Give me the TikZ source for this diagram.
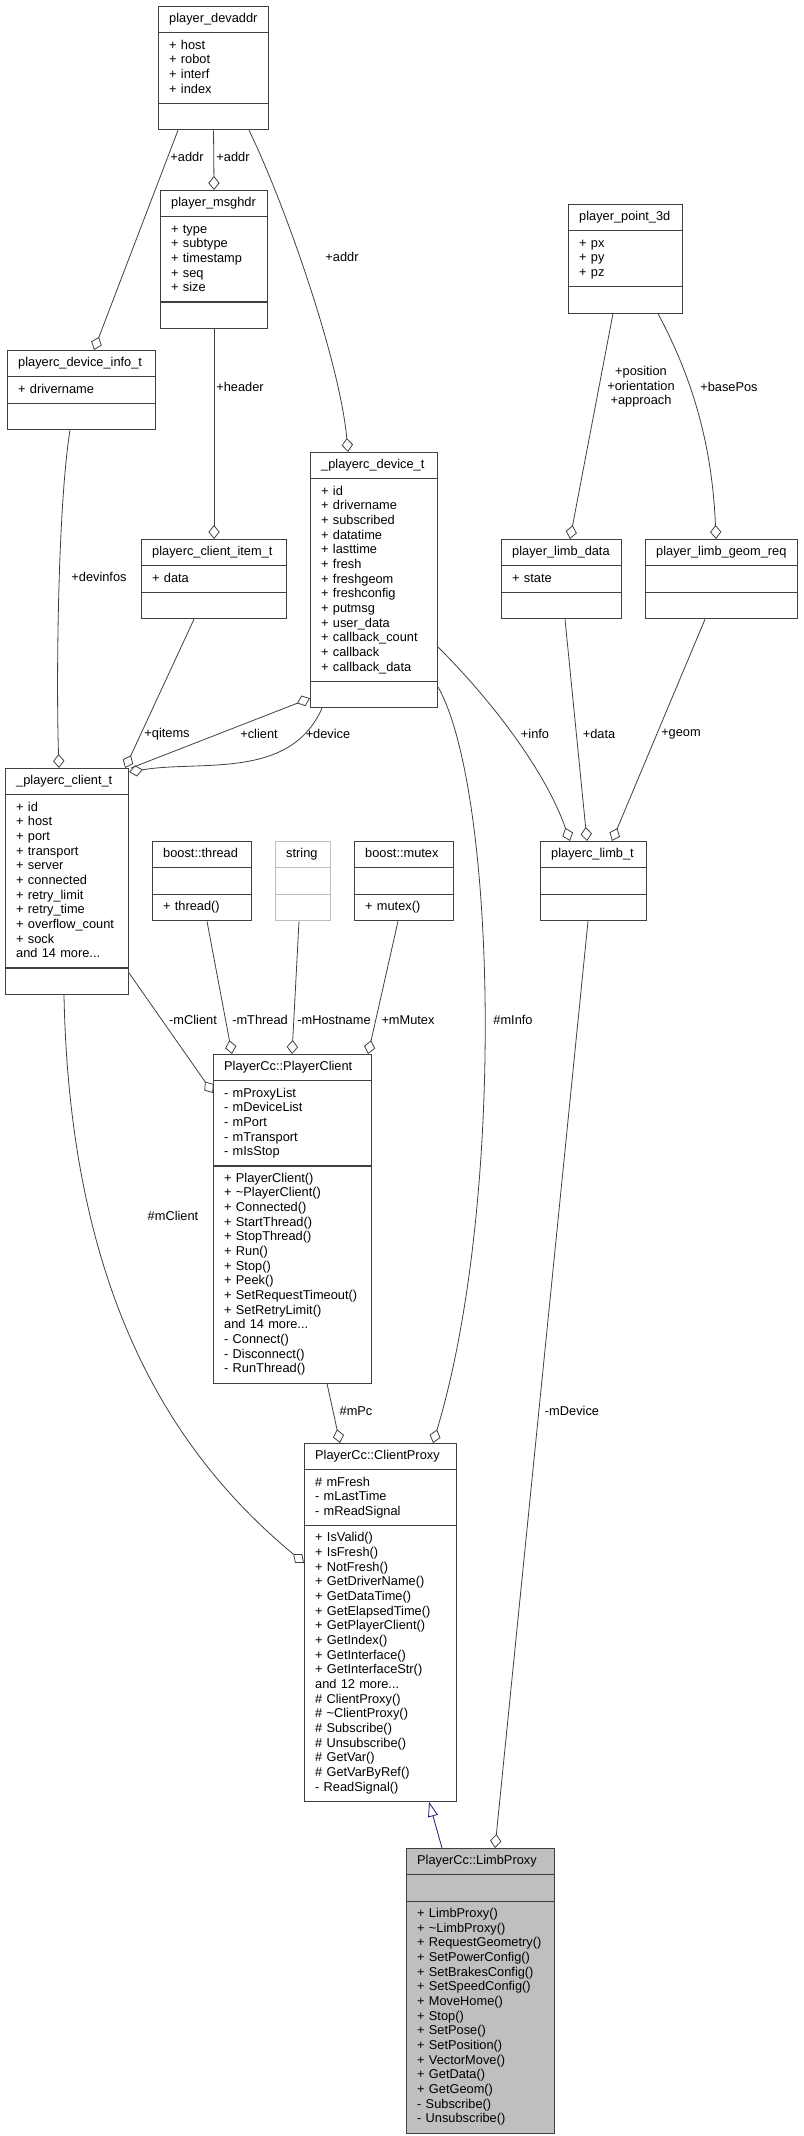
\documentclass[tikz,border=0pt]{standalone}
\usepackage{fontspec}
\setmainfont{Liberation Sans}
\usetikzlibrary{shapes.multipart,arrows.meta}

\definecolor{boxgray}{HTML}{404040}
\definecolor{stubgray}{HTML}{BFBFBF}
\definecolor{fillgray}{HTML}{BFBFBF}
\definecolor{inhblue}{HTML}{191970}

\tikzset{
  cls/.style={rectangle split, rectangle split parts=3, draw=boxgray, line width=0.8pt,
    inner xsep=8pt, inner ysep=4pt, align=left, anchor=north west,
    font=\fontsize{9.6pt}{11pt}\selectfont},
  boxw/.style={text width=#1*0.75pt-16pt},
  agg/.style={draw=boxgray, line width=0.6pt, -{Diamond[open, length=10.5pt, width=8.5pt]}},
  inh/.style={draw=inhblue, line width=0.6pt, -{Triangle[open, length=11pt, width=7.5pt]}},
  lbl/.style={font=\fontsize{9.6pt}{11pt}\selectfont, inner sep=0pt, align=center},
}

\begin{document}
\begin{tikzpicture}[x=0.75pt, y=-0.75pt]
  \useasboundingbox (0,0) rectangle (803,2136);

  % classes
  \node[cls, boxw=110] (devaddr) at (158,6) {\centering\strut player\_devaddr\strut
    \nodepart{two}\strut + host\\+ robot\\+ interf\\+ index\strut
    \nodepart{three}\strut};
  \node[cls, boxw=107] (msghdr) at (160,190) {\centering\strut player\_msghdr\strut
    \nodepart{two}\strut + type\\+ subtype\\+ timestamp\\+ seq\\+ size\strut
    \nodepart{three}\strut};
  \node[cls, boxw=148] (info) at (7,350) {\centering\strut playerc\_device\_info\_t\strut
    \nodepart{two}\strut + drivername\strut
    \nodepart{three}\strut};
  \node[cls, boxw=114] (point) at (568,204) {\centering\strut player\_point\_3d\strut
    \nodepart{two}\strut + px\\+ py\\+ pz\strut
    \nodepart{three}\strut};
  \node[cls, boxw=145] (item) at (141,539) {\centering\strut playerc\_client\_item\_t\strut
    \nodepart{two}\strut + data\strut
    \nodepart{three}\strut};
  \node[cls, boxw=127] (devt) at (310,452) {\centering\strut \_playerc\_device\_t\strut
    \nodepart{two}\strut + id\\+ drivername\\+ subscribed\\+ datatime\\+ lasttime\\+ fresh\\+ freshgeom\\+ freshconfig\\+ putmsg\\+ user\_data\\+ callback\_count\\+ callback\\+ callback\_data\strut
    \nodepart{three}\strut};
  \node[cls, boxw=120] (limbdata) at (501,539) {\centering\strut player\_limb\_data\strut
    \nodepart{two}\strut + state\strut
    \nodepart{three}\strut};
  \node[cls, boxw=152] (geomreq) at (645,539) {\centering\strut player\_limb\_geom\_req\strut
    \nodepart{two}\strut
    \nodepart{three}\strut};
  \node[cls, boxw=123] (clientt) at (5,768) {\centering\strut \_playerc\_client\_t\strut
    \nodepart{two}\strut + id\\+ host\\+ port\\+ transport\\+ server\\+ connected\\+ retry\_limit\\+ retry\_time\\+ overflow\_count\\+ sock\\and 14 more...\strut
    \nodepart{three}\strut};
  \node[cls, boxw=99] (thread) at (152,841) {\centering\strut boost::thread\strut
    \nodepart{two}\strut
    \nodepart{three}\strut + thread()\strut};
  \node[cls, boxw=55, draw=stubgray] (string) at (275,841) {\centering\strut string\strut
    \nodepart{two}\strut
    \nodepart{three}\strut};
  \node[cls, boxw=99] (mutex) at (354,841) {\centering\strut boost::mutex\strut
    \nodepart{two}\strut
    \nodepart{three}\strut + mutex()\strut};
  \node[cls, boxw=106] (limbt) at (540,841) {\centering\strut playerc\_limb\_t\strut
    \nodepart{two}\strut
    \nodepart{three}\strut};
  \node[cls, boxw=158] (pclient) at (213,1054) {\centering\strut PlayerCc::PlayerClient\strut
    \nodepart{two}\strut - mProxyList\\- mDeviceList\\- mPort\\- mTransport\\- mIsStop\strut
    \nodepart{three}\strut + PlayerClient()\\+ \textasciitilde PlayerClient()\\+ Connected()\\+ StartThread()\\+ StopThread()\\+ Run()\\+ Stop()\\+ Peek()\\+ SetRequestTimeout()\\+ SetRetryLimit()\\and 14 more...\\- Connect()\\- Disconnect()\\- RunThread()\strut};
  \node[cls, boxw=152] (cproxy) at (304,1443) {\centering\strut PlayerCc::ClientProxy\strut
    \nodepart{two}\strut \# mFresh\\- mLastTime\\- mReadSignal\strut
    \nodepart{three}\strut + IsValid()\\+ IsFresh()\\+ NotFresh()\\+ GetDriverName()\\+ GetDataTime()\\+ GetElapsedTime()\\+ GetPlayerClient()\\+ GetIndex()\\+ GetInterface()\\+ GetInterfaceStr()\\and 12 more...\\\# ClientProxy()\\\# \textasciitilde ClientProxy()\\\# Subscribe()\\\# Unsubscribe()\\\# GetVar()\\\# GetVarByRef()\\- ReadSignal()\strut};
  \node[cls, boxw=148, fill=fillgray] (lproxy) at (406,1848) {\centering\strut PlayerCc::LimbProxy\strut
    \nodepart{two}\strut
    \nodepart{three}\strut + LimbProxy()\\+ \textasciitilde LimbProxy()\\+ RequestGeometry()\\+ SetPowerConfig()\\+ SetBrakesConfig()\\+ SetSpeedConfig()\\+ MoveHome()\\+ Stop()\\+ SetPose()\\+ SetPosition()\\+ VectorMove()\\+ GetData()\\+ GetGeom()\\- Subscribe()\\- Unsubscribe()\strut};

  % members
  \draw[agg] ([shift={(20,0)}]devaddr.south west) -- ([shift={(87,0)}]info.north west);
  \draw[agg] (devaddr.south) -- (msghdr.north);
  \draw[agg] ([shift={(91,0)}]devaddr.south west) .. controls +(36,74) and +(-8,-90) .. ([shift={(38,0)}]devt.north west);
  \draw[agg] (msghdr.south) -- (item.north);
  \draw[agg] ([shift={(63,0)}]info.south west) .. controls +(-12,74) and +(-3,-88) .. ([shift={(54,0)}]clientt.north west);
  \draw[agg] ([shift={(53,0)}]item.south west) -- ([shift={(-4,0)}]clientt.north east);
  \draw[agg] ([shift={(2,0)}]clientt.north east) -- ([shift={(0,-10)}]devt.south west);
  \draw[agg] ([shift={(12,0)}]devt.south west) .. controls +(-32,72) and +(72,-12) .. ([shift={(0,4)}]clientt.north east);
  \draw[agg] ([shift={(0,195)}]devt.north east) .. controls +(53,53) and +(-25,-71) .. ([shift={(30,0)}]limbt.north west);
  \draw[agg] ([shift={(0,235)}]devt.north east) .. controls +(58,103) and +(73,-243) .. ([shift={(-24,0)}]cproxy.north east);
  \draw[agg] ([shift={(45,0)}]point.south west) -- ([shift={(69,0)}]limbdata.north west);
  \draw[agg] ([shift={(90,0)}]point.south west) .. controls +(32,60) and +(-4,-99) .. ([shift={(71,0)}]geomreq.north west);
  \draw[agg] ([shift={(64,0)}]limbdata.south west) -- ([shift={(47,0)}]limbt.north west);
  \draw[agg] ([shift={(60,0)}]geomreq.south west) -- ([shift={(72,0)}]limbt.north west);
  \draw[agg] ([shift={(0,205)}]clientt.north east) -- ([shift={(0,39)}]pclient.north west);
  \draw[agg] ([shift={(55,0)}]thread.south west) -- ([shift={(19,0)}]pclient.north west);
  \draw[agg] ([shift={(24,0)}]string.south west) -- ([shift={(79,0)}]pclient.north west);
  \draw[agg] ([shift={(44,0)}]mutex.south west) -- ([shift={(-4,0)}]pclient.north east);
  \draw[agg] ([shift={(114,0)}]pclient.south west) -- ([shift={(36,0)}]cproxy.north west);
  \draw[agg] ([shift={(59,0)}]clientt.south west) .. controls +(6,310) and +(-124,-103) .. ([shift={(0,120)}]cproxy.north west);
  \draw[agg] ([shift={(48,0)}]limbt.south west) -- ([shift={(89,0)}]lproxy.north west);

  % inheritance
  \draw[inh] ([shift={(36,0)}]lproxy.north west) -- ([shift={(-28,0)}]cproxy.south east);

  % labels
  \node[lbl] (laddra) at (187,157) {+addr};
  \node[lbl] (laddrb) at (233,157) {+addr};
  \node[lbl] (laddrc) at (342,257) {+addr};
  \node[lbl] (lheader) at (240,387) {+header};
  \node[lbl] (ldevinfos) at (99,577) {+devinfos};
  \node[lbl] (lqitems) at (167,734) {+qitems};
  \node[lbl] (lclient) at (259,734) {+client};
  \node[lbl] (ldevice) at (328,734) {+device};
  \node[lbl] (linfo) at (535,734) {+info};
  \node[lbl] (ldata) at (599,734) {+data};
  \node[lbl] (lgeom) at (681,734) {+geom};
  \node[lbl] (lpos) at (641,387) {+position\\+orientation\\+approach};
  \node[lbl] (lbase) at (729,387) {+basePos};
  \node[lbl] (lmclienta) at (193,1020) {-mClient};
  \node[lbl] (lmthread) at (260,1020) {-mThread};
  \node[lbl] (lmhost) at (334,1020) {-mHostname};
  \node[lbl] (lmmutex) at (408,1020) {+mMutex};
  \node[lbl] (lminfo) at (513,1020) {\#mInfo};
  \node[lbl] (lmclientb) at (173,1216) {\#mClient};
  \node[lbl] (lmpc) at (356,1411) {\#mPc};
  \node[lbl] (lmdevice) at (572,1411) {-mDevice};
\end{tikzpicture}
\end{document}
